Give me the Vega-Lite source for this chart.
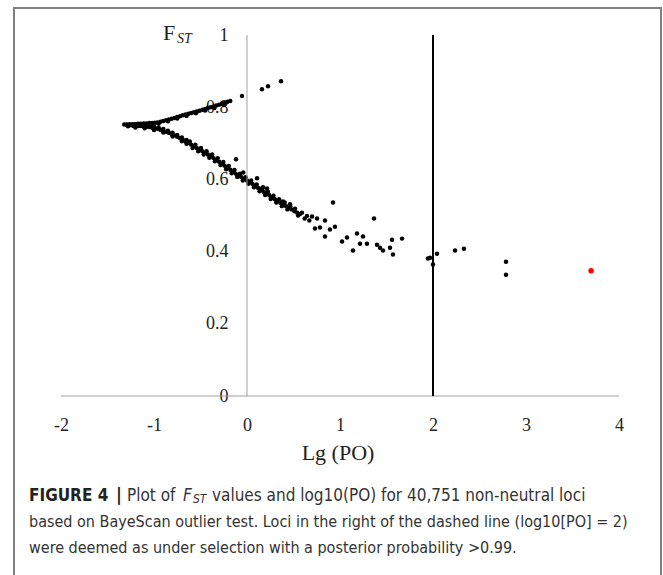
{
  "$schema": "https://vega.github.io/schema/vega-lite/v6.json",
  "width": 649,
  "height": 568,
  "autosize": {"type": "none"},
  "padding": {"left": 13, "top": 7, "right": 1, "bottom": 0},
  "background": "white",
  "config": {"view": {"stroke": null}},
  "resolve": {"axis": {"x": "independent", "y": "independent"}},
  "layer": [
    {
      "data": {"values": [
        {"x": -1.32, "y": 0.752}, {"x": -1.29, "y": 0.752}, {"x": -1.26, "y": 0.753}, {"x": -1.23, "y": 0.753},
        {"x": -1.20, "y": 0.753}, {"x": -1.17, "y": 0.754}, {"x": -1.14, "y": 0.754}, {"x": -1.11, "y": 0.755},
        {"x": -1.08, "y": 0.755}, {"x": -1.05, "y": 0.756}, {"x": -1.02, "y": 0.756}, {"x": -0.99, "y": 0.757},
        {"x": -0.96, "y": 0.758}, {"x": -0.93, "y": 0.760}, {"x": -0.90, "y": 0.762}, {"x": -0.87, "y": 0.764},
        {"x": -0.84, "y": 0.766}, {"x": -0.81, "y": 0.768}, {"x": -0.78, "y": 0.770}, {"x": -0.75, "y": 0.773},
        {"x": -0.72, "y": 0.775}, {"x": -0.69, "y": 0.778}, {"x": -0.66, "y": 0.780}, {"x": -0.63, "y": 0.782},
        {"x": -0.60, "y": 0.784}, {"x": -0.57, "y": 0.786}, {"x": -0.54, "y": 0.788}, {"x": -0.51, "y": 0.790},
        {"x": -0.48, "y": 0.793}, {"x": -0.45, "y": 0.795}, {"x": -0.42, "y": 0.798}, {"x": -0.39, "y": 0.800},
        {"x": -0.36, "y": 0.802}, {"x": -0.33, "y": 0.805}, {"x": -0.30, "y": 0.807}, {"x": -0.27, "y": 0.810},
        {"x": -0.24, "y": 0.812}, {"x": -0.21, "y": 0.815}, {"x": -0.18, "y": 0.817},
        {"x": -0.95, "y": 0.755}, {"x": -0.85, "y": 0.761}, {"x": -0.75, "y": 0.769}, {"x": -0.65, "y": 0.776},
        {"x": -0.55, "y": 0.783}, {"x": -0.45, "y": 0.791}, {"x": -0.35, "y": 0.798}, {"x": -0.25, "y": 0.807},
        {"x": -1.28, "y": 0.747}, {"x": -1.22, "y": 0.748}, {"x": -1.16, "y": 0.749}, {"x": -1.10, "y": 0.750}, {"x": -1.04, "y": 0.751},
        {"x": -1.29, "y": 0.751}, {"x": -1.26, "y": 0.750}, {"x": -1.23, "y": 0.750}, {"x": -1.20, "y": 0.749},
        {"x": -1.17, "y": 0.748}, {"x": -1.14, "y": 0.748}, {"x": -1.11, "y": 0.747}, {"x": -1.08, "y": 0.746},
        {"x": -1.05, "y": 0.745}, {"x": -1.02, "y": 0.743}, {"x": -0.99, "y": 0.742}, {"x": -0.96, "y": 0.740},
        {"x": -0.93, "y": 0.737}, {"x": -0.90, "y": 0.735}, {"x": -0.87, "y": 0.732}, {"x": -0.84, "y": 0.729},
        {"x": -0.81, "y": 0.725}, {"x": -0.78, "y": 0.722}, {"x": -0.75, "y": 0.718}, {"x": -0.72, "y": 0.714},
        {"x": -0.69, "y": 0.710}, {"x": -0.66, "y": 0.705}, {"x": -0.63, "y": 0.701}, {"x": -0.60, "y": 0.696},
        {"x": -0.57, "y": 0.692}, {"x": -0.54, "y": 0.687}, {"x": -0.51, "y": 0.682}, {"x": -0.48, "y": 0.678},
        {"x": -0.45, "y": 0.673}, {"x": -0.42, "y": 0.669}, {"x": -0.39, "y": 0.664}, {"x": -0.36, "y": 0.659},
        {"x": -0.33, "y": 0.654}, {"x": -0.30, "y": 0.649}, {"x": -0.27, "y": 0.643}, {"x": -0.24, "y": 0.638},
        {"x": -0.21, "y": 0.632}, {"x": -0.18, "y": 0.627}, {"x": -0.15, "y": 0.621}, {"x": -0.12, "y": 0.616},
        {"x": -0.09, "y": 0.611}, {"x": -0.06, "y": 0.606}, {"x": -0.03, "y": 0.602}, {"x": 0.00, "y": 0.597},
        {"x": 0.03, "y": 0.592}, {"x": 0.06, "y": 0.587}, {"x": 0.09, "y": 0.582}, {"x": 0.12, "y": 0.576},
        {"x": 0.15, "y": 0.571}, {"x": 0.18, "y": 0.566}, {"x": 0.21, "y": 0.561}, {"x": 0.24, "y": 0.556},
        {"x": 0.27, "y": 0.550}, {"x": 0.30, "y": 0.545}, {"x": 0.33, "y": 0.540}, {"x": 0.36, "y": 0.535},
        {"x": 0.39, "y": 0.531}, {"x": 0.42, "y": 0.526}, {"x": 0.45, "y": 0.521}, {"x": 0.48, "y": 0.517},
        {"x": 0.51, "y": 0.512}, {"x": 0.54, "y": 0.508}, {"x": 0.57, "y": 0.504},
        {"x": -1.20, "y": 0.753}, {"x": -1.15, "y": 0.752}, {"x": -1.10, "y": 0.751}, {"x": -1.05, "y": 0.749},
        {"x": -1.00, "y": 0.747}, {"x": -0.95, "y": 0.744}, {"x": -0.90, "y": 0.740}, {"x": -0.85, "y": 0.735},
        {"x": -0.80, "y": 0.729}, {"x": -0.75, "y": 0.723}, {"x": -0.70, "y": 0.716}, {"x": -0.65, "y": 0.709},
        {"x": -1.20, "y": 0.744}, {"x": -1.10, "y": 0.742}, {"x": -1.00, "y": 0.737}, {"x": -0.90, "y": 0.730},
        {"x": -0.80, "y": 0.719}, {"x": -0.70, "y": 0.706}, {"x": -0.65, "y": 0.699},
        {"x": -0.615, "y": 0.705}, {"x": -0.555, "y": 0.696}, {"x": -0.495, "y": 0.687}, {"x": -0.435, "y": 0.678},
        {"x": -0.375, "y": 0.669}, {"x": -0.315, "y": 0.659}, {"x": -0.255, "y": 0.648}, {"x": -0.195, "y": 0.637},
        {"x": -0.135, "y": 0.626}, {"x": -0.075, "y": 0.616}, {"x": -0.015, "y": 0.606}, {"x": 0.045, "y": 0.597},
        {"x": 0.105, "y": 0.586}, {"x": 0.165, "y": 0.576}, {"x": 0.225, "y": 0.566}, {"x": 0.285, "y": 0.555},
        {"x": 0.345, "y": 0.545}, {"x": 0.405, "y": 0.536}, {"x": 0.465, "y": 0.526},
        {"x": -0.585, "y": 0.687}, {"x": -0.525, "y": 0.678}, {"x": -0.465, "y": 0.669}, {"x": -0.405, "y": 0.660},
        {"x": -0.345, "y": 0.650}, {"x": -0.285, "y": 0.640}, {"x": -0.225, "y": 0.628}, {"x": -0.165, "y": 0.617},
        {"x": -0.105, "y": 0.607}, {"x": -0.045, "y": 0.597}, {"x": 0.015, "y": 0.588}, {"x": 0.075, "y": 0.578},
        {"x": 0.135, "y": 0.567}, {"x": 0.195, "y": 0.557}, {"x": 0.255, "y": 0.546}, {"x": 0.315, "y": 0.536},
        {"x": 0.375, "y": 0.526}, {"x": 0.435, "y": 0.517},
        {"x": -0.118, "y": 0.656}, {"x": -0.04, "y": 0.619}, {"x": 0.108, "y": 0.603}, {"x": 0.172, "y": 0.578},
        {"x": 0.215, "y": 0.575}, {"x": 0.280, "y": 0.550}, {"x": 0.387, "y": 0.539}, {"x": 0.462, "y": 0.531},
        {"x": 0.516, "y": 0.519}, {"x": 0.591, "y": 0.508}, {"x": 0.645, "y": 0.499}, {"x": 0.699, "y": 0.497},
        {"x": 0.753, "y": 0.492}, {"x": 0.785, "y": 0.467}, {"x": 0.731, "y": 0.464}, {"x": 0.892, "y": 0.461},
        {"x": 0.839, "y": 0.486}, {"x": 0.946, "y": 0.469}, {"x": 0.839, "y": 0.442}, {"x": 0.925, "y": 0.536},
        {"x": 1.022, "y": 0.428}, {"x": 1.075, "y": 0.439}, {"x": 1.140, "y": 0.403}, {"x": 1.183, "y": 0.450},
        {"x": 1.215, "y": 0.422}, {"x": 1.247, "y": 0.442}, {"x": 1.290, "y": 0.422}, {"x": 1.366, "y": 0.492},
        {"x": 1.398, "y": 0.419}, {"x": 1.430, "y": 0.411}, {"x": 1.462, "y": 0.403}, {"x": 1.538, "y": 0.411},
        {"x": 1.559, "y": 0.433}, {"x": 1.570, "y": 0.392}, {"x": 1.667, "y": 0.436}, {"x": 1.946, "y": 0.381},
        {"x": 1.968, "y": 0.383}, {"x": 2.000, "y": 0.364}, {"x": 2.043, "y": 0.394}, {"x": 2.237, "y": 0.403},
        {"x": 2.333, "y": 0.408}, {"x": 2.785, "y": 0.372}, {"x": 2.785, "y": 0.336},
        {"x": -0.054, "y": 0.831}, {"x": 0.161, "y": 0.850}, {"x": 0.226, "y": 0.858}, {"x": 0.366, "y": 0.872},
        {"x": 0.62, "y": 0.492}, {"x": 0.55, "y": 0.500}, {"x": 0.67, "y": 0.486},
        {"x": 3.70, "y": 0.347, "type": "outlier"}
      ]},
      "mark": {"type": "circle", "opacity": 1},
      "encoding": {
        "x": {
          "field": "x", "type": "quantitative",
          "scale": {"domain": [-2.5161, 4.4624], "nice": false, "zero": false},
          "axis": {
            "orient": "bottom", "offset": -179, "values": [-2, -1, 0, 1, 2, 3, 4],
            "labelExpr": "'' + datum.value", "domain": false, "ticks": false, "grid": false,
            "labelPadding": 20, "labelFont": "Liberation Serif", "labelFontSize": 18, "labelColor": "#222222",
            "labelOverlap": false,
            "title": "Lg (PO)", "titleFont": "Liberation Serif", "titleFontSize": 22, "titleFontWeight": "normal",
            "titleColor": "#222222", "titlePadding": 8
          }
        },
        "y": {
          "field": "y", "type": "quantitative",
          "scale": {"domain": [-0.4958, 1.0776], "nice": false, "zero": false},
          "axis": {
            "orient": "left", "offset": -234, "values": [0, 0.2, 0.4, 0.6, 0.8, 1],
            "format": "~g", "domain": false, "ticks": false, "grid": false,
            "labelPadding": 19, "labelFont": "Liberation Serif", "labelFontSize": 18, "labelColor": "#222222",
            "labelOverlap": false, "title": null
          }
        },
        "color": {"condition": {"test": "datum.type === 'outlier'", "value": "#ff0000"}, "value": "#000000"},
        "size": {"condition": {"test": "datum.type === 'outlier'", "value": 30}, "value": 20}
      }
    },
    {
      "data": {"values": [{}]},
      "mark": {"type": "rect", "fill": null, "filled": false, "stroke": "#808080", "strokeWidth": 2, "clip": true},
      "encoding": {
        "x": {"datum": -2.5054, "type": "quantitative", "scale": {"domain": [-2.5161, 4.4624], "nice": false, "zero": false}, "axis": null},
        "x2": {"datum": 4.4516},
        "y": {"datum": 1.0748, "type": "quantitative", "scale": {"domain": [-0.4958, 1.0776], "nice": false, "zero": false}, "axis": null},
        "y2": {"datum": -0.6}
      }
    },
    {
      "data": {"values": [{}]},
      "mark": {"type": "rule", "color": "#a0a0a0", "strokeWidth": 1},
      "encoding": {
        "x": {"datum": 0, "type": "quantitative", "scale": {"domain": [-2.5161, 4.4624], "nice": false, "zero": false}, "axis": null},
        "y": {"datum": 0, "type": "quantitative", "scale": {"domain": [-0.4958, 1.0776], "nice": false, "zero": false}, "axis": null},
        "y2": {"datum": 1}
      }
    },
    {
      "data": {"values": [{}]},
      "mark": {"type": "rule", "color": "#a0a0a0", "strokeWidth": 1},
      "encoding": {
        "x": {"datum": -2, "type": "quantitative", "scale": {"domain": [-2.5161, 4.4624], "nice": false, "zero": false}, "axis": null},
        "x2": {"datum": 4},
        "y": {"datum": 0, "type": "quantitative", "scale": {"domain": [-0.4958, 1.0776], "nice": false, "zero": false}, "axis": null}
      }
    },
    {
      "data": {"values": [{}]},
      "mark": {"type": "rule", "color": "#000000", "strokeWidth": 2},
      "encoding": {
        "x": {"datum": 2, "type": "quantitative", "scale": {"domain": [-2.5161, 4.4624], "nice": false, "zero": false}, "axis": null},
        "y": {"datum": 0, "type": "quantitative", "scale": {"domain": [-0.4958, 1.0776], "nice": false, "zero": false}, "axis": null},
        "y2": {"datum": 1}
      }
    },
    {
      "data": {"values": [{}]},
      "mark": {"type": "text", "text": "F", "font": "Liberation Serif", "fontSize": 22, "align": "left", "baseline": "middle", "color": "#222222"},
      "encoding": {
        "x": {"datum": -0.9032, "type": "quantitative", "scale": {"domain": [-2.5161, 4.4624], "nice": false, "zero": false}, "axis": null},
        "y": {"datum": 1.0055, "type": "quantitative", "scale": {"domain": [-0.4958, 1.0776], "nice": false, "zero": false}, "axis": null}
      }
    },
    {
      "data": {"values": [{}]},
      "mark": {"type": "text", "text": "ST", "font": "Liberation Serif", "fontSize": 14, "fontStyle": "italic", "align": "left", "baseline": "middle", "color": "#222222"},
      "encoding": {
        "x": {"datum": -0.753, "type": "quantitative", "scale": {"domain": [-2.5161, 4.4624], "nice": false, "zero": false}, "axis": null},
        "y": {"datum": 0.99, "type": "quantitative", "scale": {"domain": [-0.4958, 1.0776], "nice": false, "zero": false}, "axis": null}
      }
    },
    {
      "data": {"values": [{}]},
      "mark": {"type": "text", "text": "FIGURE 4", "font": "DejaVu Sans Condensed, Liberation Sans, sans-serif", "fontSize": 17, "fontWeight": "bold", "align": "left", "baseline": "middle", "color": "#222222"},
      "encoding": {
        "x": {"datum": -2.3441, "type": "quantitative", "scale": {"domain": [-2.5161, 4.4624], "nice": false, "zero": false}, "axis": null},
        "y": {"datum": -0.277, "type": "quantitative", "scale": {"domain": [-0.4958, 1.0776], "nice": false, "zero": false}, "axis": null}
      }
    },
    {
      "data": {"values": [{}]},
      "mark": {"type": "text", "text": "|", "font": "DejaVu Sans Condensed, Liberation Sans, sans-serif", "fontSize": 18, "fontWeight": "bold", "align": "left", "baseline": "middle", "color": "#222222"},
      "encoding": {
        "x": {"datum": -1.4086, "type": "quantitative", "scale": {"domain": [-2.5161, 4.4624], "nice": false, "zero": false}, "axis": null},
        "y": {"datum": -0.277, "type": "quantitative", "scale": {"domain": [-0.4958, 1.0776], "nice": false, "zero": false}, "axis": null}
      }
    },
    {
      "data": {"values": [{}]},
      "mark": {"type": "text", "text": "Plot of", "font": "DejaVu Sans Condensed, Liberation Sans, sans-serif", "fontSize": 17, "align": "left", "baseline": "middle", "color": "#333333"},
      "encoding": {
        "x": {"datum": -1.2903, "type": "quantitative", "scale": {"domain": [-2.5161, 4.4624], "nice": false, "zero": false}, "axis": null},
        "y": {"datum": -0.277, "type": "quantitative", "scale": {"domain": [-0.4958, 1.0776], "nice": false, "zero": false}, "axis": null}
      }
    },
    {
      "data": {"values": [{}]},
      "mark": {"type": "text", "text": "F", "font": "DejaVu Sans Condensed, Liberation Sans, sans-serif", "fontSize": 17, "fontStyle": "italic", "align": "left", "baseline": "middle", "color": "#333333"},
      "encoding": {
        "x": {"datum": -0.6882, "type": "quantitative", "scale": {"domain": [-2.5161, 4.4624], "nice": false, "zero": false}, "axis": null},
        "y": {"datum": -0.277, "type": "quantitative", "scale": {"domain": [-0.4958, 1.0776], "nice": false, "zero": false}, "axis": null}
      }
    },
    {
      "data": {"values": [{}]},
      "mark": {"type": "text", "text": "ST", "font": "DejaVu Sans Condensed, Liberation Sans, sans-serif", "fontSize": 12, "fontStyle": "italic", "align": "left", "baseline": "middle", "color": "#333333"},
      "encoding": {
        "x": {"datum": -0.5806, "type": "quantitative", "scale": {"domain": [-2.5161, 4.4624], "nice": false, "zero": false}, "axis": null},
        "y": {"datum": -0.286, "type": "quantitative", "scale": {"domain": [-0.4958, 1.0776], "nice": false, "zero": false}, "axis": null}
      }
    },
    {
      "data": {"values": [{}]},
      "mark": {"type": "text", "text": "values and log10(PO) for 40,751 non-neutral loci", "font": "DejaVu Sans Condensed, Liberation Sans, sans-serif", "fontSize": 17, "align": "left", "baseline": "middle", "color": "#333333"},
      "encoding": {
        "x": {"datum": -0.3763, "type": "quantitative", "scale": {"domain": [-2.5161, 4.4624], "nice": false, "zero": false}, "axis": null},
        "y": {"datum": -0.277, "type": "quantitative", "scale": {"domain": [-0.4958, 1.0776], "nice": false, "zero": false}, "axis": null}
      }
    },
    {
      "data": {"values": [{}]},
      "mark": {"type": "text", "text": "based on BayeScan outlier test. Loci in the right of the dashed line (log10[PO] = 2)", "font": "DejaVu Sans Condensed, Liberation Sans, sans-serif", "fontSize": 16, "align": "left", "baseline": "middle", "color": "#333333"},
      "encoding": {
        "x": {"datum": -2.3441, "type": "quantitative", "scale": {"domain": [-2.5161, 4.4624], "nice": false, "zero": false}, "axis": null},
        "y": {"datum": -0.349, "type": "quantitative", "scale": {"domain": [-0.4958, 1.0776], "nice": false, "zero": false}, "axis": null}
      }
    },
    {
      "data": {"values": [{}]},
      "mark": {"type": "text", "text": "were deemed as under selection with a posterior probability >0.99.", "font": "DejaVu Sans Condensed, Liberation Sans, sans-serif", "fontSize": 16, "align": "left", "baseline": "middle", "color": "#333333"},
      "encoding": {
        "x": {"datum": -2.3441, "type": "quantitative", "scale": {"domain": [-2.5161, 4.4624], "nice": false, "zero": false}, "axis": null},
        "y": {"datum": -0.421, "type": "quantitative", "scale": {"domain": [-0.4958, 1.0776], "nice": false, "zero": false}, "axis": null}
      }
    }
  ]
}
